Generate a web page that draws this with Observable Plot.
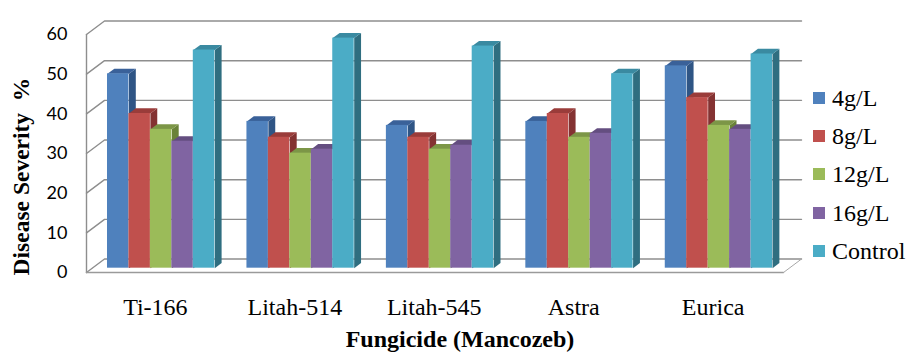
<!DOCTYPE html>
<html>
<head>
<meta charset="utf-8">
<script src="https://cdn.jsdelivr.net/npm/d3@7"></script>
<script src="https://cdn.jsdelivr.net/npm/@observablehq/plot@0.6"></script>
<style>
  html, body { margin: 0; padding: 0; background: #fff; }
  #wrap { position: relative; width: 912px; height: 358px; overflow: hidden; }
  #legend { position: absolute; left: 813px; top: 84px; font: 24px "Liberation Serif", serif; color: #000; }
  #legend div { position: absolute; left: 0; height: 28px; line-height: 28px; white-space: nowrap; }
  #legend i { position: absolute; left: 0; top: 8px; width: 12px; height: 12px; }
  #legend span { position: absolute; left: 19px; top: 0; }
</style>
</head>
<body>
<div id="wrap"></div>
<script>
const fungicides = ["Ti-166", "Litah-514", "Litah-545", "Astra", "Eurica"];
const doses = ["4g/L", "8g/L", "12g/L", "16g/L", "Control"];
const dose4 = [49, 37, 36, 37, 51];
const dose8 = [39, 33, 33, 39, 43];
const dose12 = [35, 29, 30, 33, 36];
const dose16 = [32, 30, 31, 34, 35];
const control = [55, 58, 56, 49, 54];
const seriesValues = [dose4, dose8, dose12, dose16, control];
const yTicks = [0, 10, 20, 30, 40, 50, 60];

const frontColors = ["#4F81BD", "#C0504D", "#9BBB59", "#8064A2", "#4BACC6"];
const sideColors = ["#2F5585", "#843232", "#6A8238", "#58456F", "#2F6E80"];
const topColors = ["#3A6199", "#9A3C3A", "#7C9647", "#644E80", "#3A8AA1"];

// Oblique projection: depth d shifts a point along x (bar widths) and y (value units)
const depthX = 0.84, depthY = 3.4;
const barPlane = 0.32, barDepth = 0.38, groupStep = 6.5, barCount = 5;
const xMin = -0.71, xMax = 31.78;
const px = (u, d) => u + d * depthX;
const py = (v, d) => v + d * depthY;

const rects = [], faces = [];
seriesValues.forEach((vals, s) => {
  vals.forEach((v, g) => {
    const u0 = g * groupStep + s, u1 = u0 + 1;
    rects.push({x1: px(u0, barPlane), x2: px(u1, barPlane), y1: py(0, barPlane), y2: py(v, barPlane), s});
    const d0 = barPlane, d1 = barPlane + barDepth;
    const side = [[u1, 0, d0], [u1, v, d0], [u1, v, d1], [u1, 0, d1]];
    const top = [[u0, v, d0], [u1, v, d0], [u1, v, d1], [u0, v, d1]];
    side.forEach(p => faces.push({x: px(p[0], p[2]), y: py(p[1], p[2]), id: `side${s}-${g}`, s, kind: "side"}));
    top.forEach(p => faces.push({x: px(p[0], p[2]), y: py(p[1], p[2]), id: `top${s}-${g}`, s, kind: "top"}));
  });
});

const gridRows = [];
yTicks.forEach(t => {
  gridRows.push({x: xMin, y: t, id: t});
  gridRows.push({x: px(xMin, 1), y: py(t, 1), id: t});
  gridRows.push({x: px(xMax, 1), y: py(t, 1), id: t});
});
const wall = [{x: xMin, y: 0}, {x: xMin, y: 60}];
const floorFront = [{x: xMin, y: 0}, {x: xMax, y: 0}];
const floorSide = [{x: xMax, y: 0}, {x: px(xMax, 1), y: py(0, 1)}];

const groupCenters = fungicides.map((_, g) => g * groupStep + barCount / 2);
const labelOf = new Map(groupCenters.map((c, i) => [c, fungicides[i]]));

const barMarks = [];
doses.forEach((_, s) => {
  barMarks.push(Plot.line(faces.filter(f => f.s === s && f.kind === "side"), {x: "x", y: "y", z: "id", fill: sideColors[s], stroke: "none"}));
  barMarks.push(Plot.line(faces.filter(f => f.s === s && f.kind === "top"), {x: "x", y: "y", z: "id", fill: topColors[s], stroke: "none"}));
  barMarks.push(Plot.rect(rects.filter(r => r.s === s), {x1: "x1", x2: "x2", y1: "y1", y2: "y2", fill: frontColors[s], inset: 0}));
});

const chart = Plot.plot({
  width: 912, height: 358,
  marginLeft: 86, marginRight: 129, marginTop: 34, marginBottom: 86,
  style: {background: "#fff"},
  x: {domain: [xMin, xMax]},
  y: {domain: [0, 60]},
  marks: [
    Plot.line(gridRows, {x: "x", y: "y", z: "id", stroke: "#8e8e8e", strokeWidth: 1.4}),
    Plot.line(wall, {x: "x", y: "y", stroke: "#8e8e8e", strokeWidth: 1.4}),
    Plot.line(floorFront, {x: "x", y: "y", stroke: "#9a9a9a", strokeWidth: 1.4}),
    Plot.line(floorSide, {x: "x", y: "y", stroke: "#a8a8a8", strokeWidth: 1}),
    ...barMarks,
    Plot.axisY({ticks: yTicks, tickSize: 0, tickPadding: 19, label: null, fontSize: 18, fontFamily: "Lato", fill: "#000"}),
    Plot.axisX({ticks: groupCenters, tickFormat: d => labelOf.get(d), tickSize: 0, tickPadding: 25, label: null,
      fontSize: 24, fontFamily: "Liberation Serif", fill: "#000"}),
    Plot.text(["Disease Severity  %"], {frameAnchor: "middle", dx: -414, dy: 23, rotate: -90, text: d => d,
      fontSize: 23.5, fontWeight: "bold", fontFamily: "Liberation Serif", fill: "#000"}),
    Plot.text(["Fungicide (Mancozeb)"], {frameAnchor: "middle", dx: 25, dy: 186, text: d => d,
      fontSize: 24, fontWeight: "bold", fontFamily: "Liberation Serif", fill: "#000"})
  ]
});

const wrap = document.getElementById("wrap");
wrap.appendChild(chart);
const legend = document.createElement("div");
legend.id = "legend";
const legendTops = [0, 38, 76, 115, 153];
doses.forEach((d, i) => {
  const row = document.createElement("div");
  row.style.top = legendTops[i] + "px";
  const sw = document.createElement("i");
  sw.style.background = frontColors[i];
  const tx = document.createElement("span");
  tx.textContent = d;
  row.append(sw, tx);
  legend.appendChild(row);
});
wrap.appendChild(legend);
</script>
</body>
</html>
